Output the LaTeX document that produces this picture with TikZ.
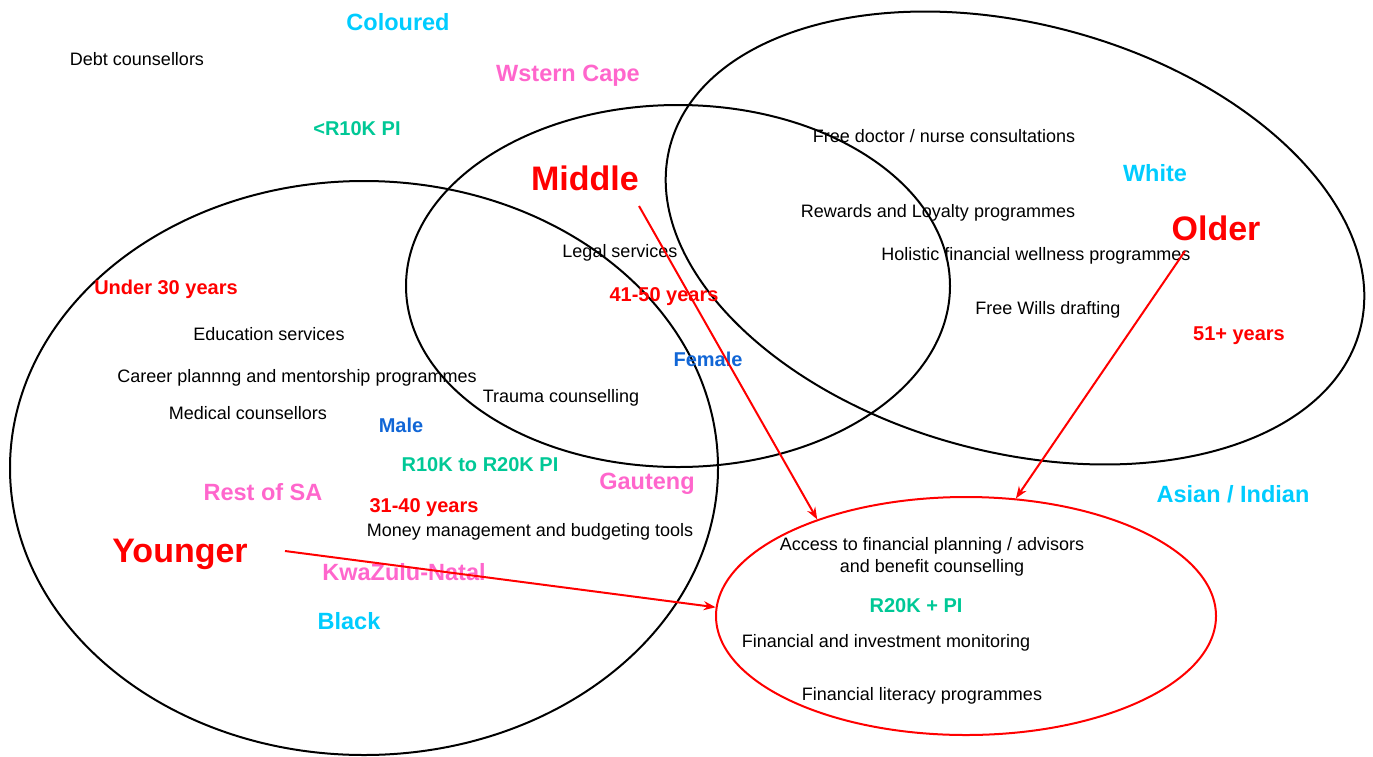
\documentclass[tikz,border=0pt]{standalone}
\usepackage{fontspec}
\setmainfont{Liberation Sans}
\usetikzlibrary{shapes.geometric,arrows.meta,positioning}
\definecolor{racecyan}{RGB}{0,204,255}
\definecolor{regionpink}{RGB}{255,102,204}
\definecolor{incomegreen}{RGB}{0,200,150}
\definecolor{genderblue}{RGB}{17,102,214}
\definecolor{agered}{RGB}{255,0,0}

\begin{document}
\begin{tikzpicture}[
    x=1pt, y=-1pt,
    >={Stealth[length=12pt, width=9pt]},
    every node/.style={inner sep=0pt, anchor=base},
    service/.style={font=\fontsize{18}{22}\selectfont},
    tag/.style={font=\bfseries\fontsize{20}{24}\selectfont},
    group/.style={font=\bfseries\fontsize{23.5}{28}\selectfont},
    stage/.style={font=\bfseries\fontsize{34}{40}\selectfont, text=agered},
    ring/.style={draw, line width=2pt},
    link/.style={->, draw=agered, line width=2pt}
]
    \useasboundingbox (0,0) rectangle (1373,756);

    % Age circles
    \draw[ring] (364,468) ellipse [x radius=354, y radius=287];
    \draw[ring] (678,286) ellipse [x radius=272, y radius=181];
    \draw[ring, rotate around={-15:(1015,238)}] (1015,238) ellipse [x radius=357, y radius=214];
    \node[ellipse, draw=agered, line width=2pt, minimum width=500, minimum height=238, anchor=center] (fin) at (966,616) {};

    % Services
    \node[service] (debt) at (137,65.5) {Debt counsellors};
    \node[service] (doctor) at (944,142.5) {Free doctor / nurse consultations};
    \node[service] (reward) at (938,217.5) {Rewards and Loyalty programmes};
    \node[service] (legal) at (620,257.5) {Legal services};
    \node[service] (holistic) at (1036,260.5) {Holistic financial wellness programmes};
    \node[service] (wills) at (1048,314.5) {Free Wills drafting};
    \node[service] (edu) at (269,340.5) {Education services};
    \node[service] (career) at (297,382.5) {Career plannng and mentorship programmes};
    \node[service] (trauma) at (561,402.5) {Trauma counselling};
    \node[service] (medical) at (248,419.5) {Medical counsellors};
    \node[service] (money) at (530,536.5) {Money management and budgeting tools};
    \node[service, align=center, anchor=center] (access) at (932,556.6) {Access to financial planning / advisors\\and benefit counselling};
    \node[service] (monitor) at (886,647.5) {Financial and investment monitoring};
    \node[service] (literacy) at (922,700.5) {Financial literacy programmes};

    % Age ranges, gender, income
    \node[tag, text=agered] (under30) at (166,294) {Under 30 years};
    \node[tag, text=agered] (age4150) at (664,301) {41-50 years};
    \node[tag, text=agered] (age51) at (1239,340) {51+ years};
    \node[tag, text=agered] (age3140) at (424,512) {31-40 years};
    \node[tag, text=genderblue] (female) at (708,366) {Female};
    \node[tag, text=genderblue] (male) at (401,432) {Male};
    \node[tag, text=incomegreen] (low) at (357,135) {<R10K PI};
    \node[tag, text=incomegreen] (midpi) at (480,471) {R10K to R20K PI};
    \node[tag, text=incomegreen] (high) at (916,612) {R20K + PI};

    % Race and region
    \node[group, text=racecyan] (coloured) at (398,30.5) {Coloured};
    \node[group, text=racecyan] (white) at (1155,181.5) {White};
    \node[group, text=racecyan] (asian) at (1233,502.5) {Asian / Indian};
    \node[group, text=racecyan] (black) at (349,629.5) {Black};
    \node[group, text=regionpink] (wcape) at (568,81.5) {Wstern Cape};
    \node[group, text=regionpink] (rest) at (263,500.5) {Rest of SA};
    \node[group, text=regionpink] (gauteng) at (647,489.5) {Gauteng};
    \node[group, text=regionpink] (kzn) at (404,580.5) {KwaZulu-Natal};

    % Age groups
    \node[stage] (mid) at (585,190) {Middle};
    \node[stage] (old) at (1216,240) {Older};
    \node[stage] (young) at (180,562) {Younger};

    % Links
    \coordinate (midtail) at (639,206);
    \coordinate (oldtail) at (1185,251);
    \coordinate (youngtail) at (285,551);
    \draw[link] (midtail) -- (fin.147);
    \draw[link] (oldtail) -- (fin.67);
    \draw[link] (youngtail) -- (fin.178);
\end{tikzpicture}
\end{document}
